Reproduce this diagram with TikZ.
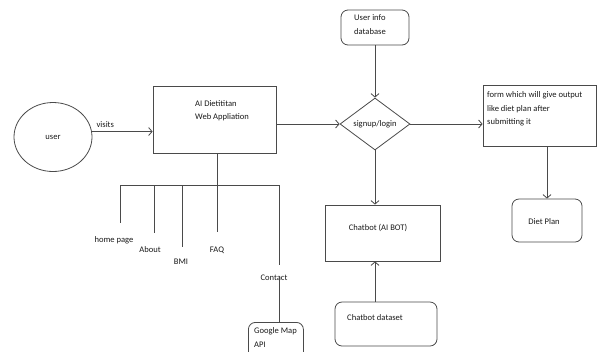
\documentclass[tikz,border=0pt]{standalone}
\usepackage{fontspec}
\setmainfont{Carlito}
\usetikzlibrary{arrows.meta,shapes.geometric}
\definecolor{lc}{HTML}{4A4A4A}
\definecolor{tc}{HTML}{1A1A1A}
\begin{document}
\begin{tikzpicture}[x=1bp,y=-1bp,
  ln/.style={draw=lc, line width=0.8bp},
  arr/.style={ln, -{Straight Barb[length=3.5bp,width=8bp]}},
  box/.style={draw=lc, line width=0.8bp, rectangle, inner sep=0pt},
  rbox/.style={box, rounded corners=7bp},
  txt/.style={font=\fontsize{8.6}{13.5}\selectfont, inner sep=0pt, align=left, text=tc},
]
\useasboundingbox (0,0) rectangle (597,351);

% user
\node[ellipse, draw=lc, line width=0.8bp, minimum width=78bp, minimum height=69bp, inner sep=0pt, txt] (user) at (53,137) {user};

% AI web app
\node[box, minimum width=123bp, minimum height=67bp] (web) at (214.5,119.5) {};
\node[txt, anchor=north west] (webt) at (195,100) {AI Dietititan\\Web Appliation};

% user info database
\node[rbox, minimum width=68bp, minimum height=35bp] (db) at (375,27.5) {};
\node[txt, anchor=north west] (dbt) at (354,14.5) {User info\\database};

% signup/login
\node[diamond, draw=lc, line width=0.8bp, minimum width=70bp, minimum height=52bp, inner sep=0pt, txt] (sl) at (375,124) {signup/login};

% form
\node[box, minimum width=113bp, minimum height=61bp] (form) at (539.5,115.5) {};
\node[txt, anchor=north west] (formt) at (487,91.5) {form which will give output\\like diet plan after\\submitting it};

% diet plan
\node[rbox, minimum width=70bp, minimum height=43bp] (diet) at (547,220.5) {};
\node[txt] (diett) at (544,222) {Diet Plan};

% chatbot
\node[box, minimum width=115bp, minimum height=56bp] (bot) at (382.5,233) {};
\node[txt] (bott) at (378,228) {Chatbot (AI BOT)};

% chatbot dataset
\node[rbox, minimum width=102bp, minimum height=44bp] (ds) at (386,324) {};
\node[txt, anchor=west] (dst) at (347,318) {Chatbot dataset};

% connectors
\draw[arr] (user.8) -- (user.8 -| web.west) node[txt, pos=0.22, anchor=south, yshift=4bp] {visits};
\draw[arr] (web.east |- sl.west) -- (sl.west);
\draw[arr] (db.south) -- (sl.north);
\draw[arr] (sl.east) -- (sl.east -| form.west);
\draw[arr] (form.south -| diet.north) -- (diet.north);
\draw[arr] (sl.south) -- (sl.south |- bot.north);
\draw[arr] (ds.north -| sl.south) -- (sl.south |- bot.south);

% tree of pages
\coordinate (hub) at (217,185);
\coordinate (hl) at (120,185);
\coordinate (hr) at (279,185);
\node[txt] (home) at (114,240) {home page};
\node[txt] (about) at (150,250) {About};
\node[txt] (bmi) at (181,262) {BMI};
\node[txt] (faq) at (217,250) {FAQ};
\node[txt] (contact) at (274,278) {Contact};
\coordinate (e1) at (120,223);
\coordinate (e2) at (154,233);
\coordinate (e3) at (182,247);
\coordinate (e4) at (217,232);
\coordinate (e5) at (279,265);

\draw[ln] (web.south -| hub) -- (hub);
\draw[ln] (hl) -- (hr);
\draw[ln] (hl) -- (e1);
\draw[ln] (hl -| e2) -- (e2);
\draw[ln] (hl -| e3) -- (e3);
\draw[ln] (hub) -- (e4);
\draw[ln] (hr) -- (e5);

% google map
\node[rbox, anchor=north west, minimum width=55bp, minimum height=40bp] (gm) at (248,322) {};
\node[txt, anchor=north west] (gmt) at (254,327.5) {Google Map\\API};
\draw[ln] (contact.south -| e5) ++(0,5bp) coordinate (cs) -- (cs |- gm.north);
\end{tikzpicture}
\end{document}
